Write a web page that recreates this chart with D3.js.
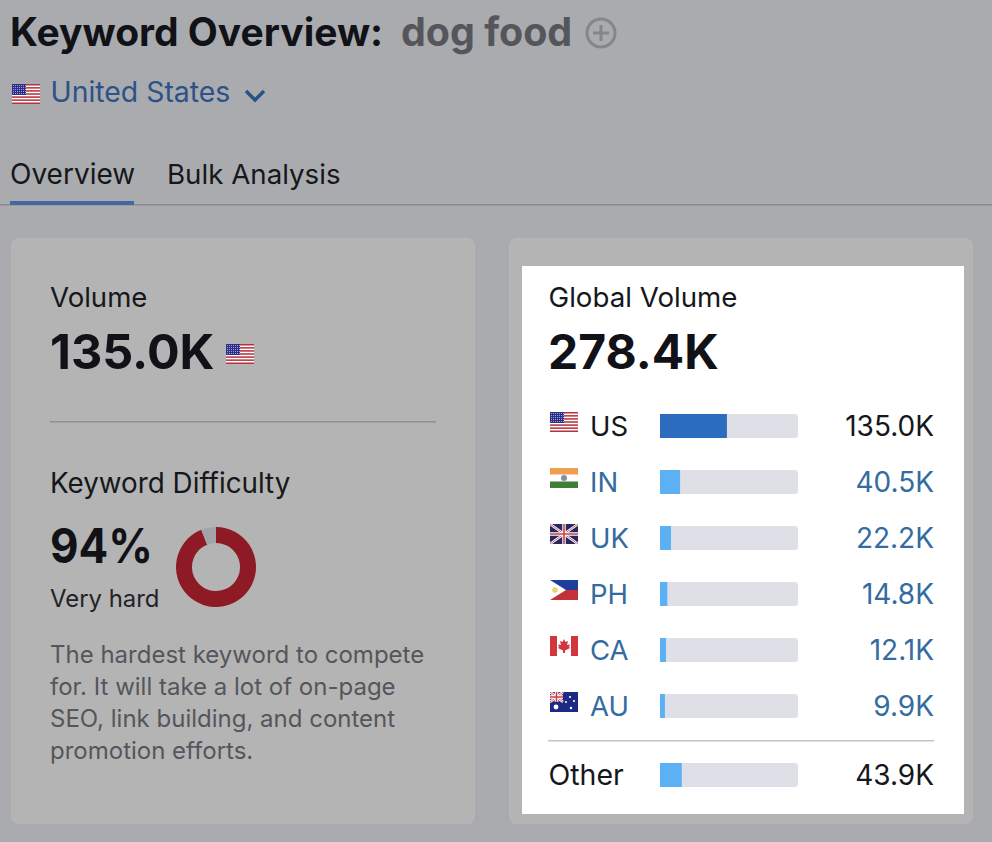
<!DOCTYPE html>
<html>
<head>
<meta charset="utf-8">
<title>Keyword Overview</title>
<script src="https://cdn.jsdelivr.net/npm/d3@7"></script>
<style>
  html, body { margin: 0; padding: 0; background: #aaabae; overflow: hidden; }
  svg { display: block; }
  text { font-family: Inter, "Noto Sans", sans-serif; }
</style>
</head>
<body>
<div id="chart"></div>
<script>
// Chart data
const countries = ['US', 'IN', 'UK', 'PH', 'CA', 'AU'];
const countryVolumes = [135000, 40500, 22200, 14800, 12100, 9900];
const countryLabels = ['135.0K', '40.5K', '22.2K', '14.8K', '12.1K', '9.9K'];
const otherVolume = [43900];
const otherLabel = ['43.9K'];
const globalVolume = 278400;
const difficulty = [94, 6];
const descriptionLines = [
  'The hardest keyword to compete',
  'for. It will take a lot of on-page',
  'SEO, link building, and content',
  'promotion efforts.'
];

const svg = d3.select('#chart').append('svg')
  .attr('width', 992)
  .attr('height', 842);

// helper for plain text
function label(parent, x, y, str, size, weight, fill, anchor) {
  return parent.append('text')
    .attr('x', x).attr('y', y)
    .attr('font-size', size)
    .attr('font-weight', weight)
    .attr('fill', fill)
    .attr('text-anchor', anchor || 'start')
    .text(str);
}

// Background and header
svg.append('rect').attr('width', 992).attr('height', 842).attr('fill', '#aaabae');
label(svg, 10, 46, 'Keyword Overview:', 39, 700, '#111217');
label(svg, 401, 46, 'dog food', 39.4, 700, '#55565b');
svg.append('circle').attr('cx', 601).attr('cy', 33).attr('r', 14)
  .attr('fill', 'none').attr('stroke', '#85868a').attr('stroke-width', 3);
svg.append('path').attr('d', 'M593,33H609M601,25V41')
  .attr('stroke', '#85868a').attr('stroke-width', 3);

label(svg, 50.5, 102, 'United States', 28.4, 400, '#2c5288');
svg.append('path').attr('d', 'M246,91L255,100L264,91')
  .attr('fill', 'none').attr('stroke', '#2c5288').attr('stroke-width', 3.5);

label(svg, 10, 184, 'Overview', 28, 400, '#16171b');
label(svg, 167, 184, 'Bulk Analysis', 27.7, 400, '#16171b');
svg.append('rect').attr('x', 0).attr('y', 204).attr('width', 992).attr('height', 1.5).attr('fill', '#8b8c91');
svg.append('rect').attr('x', 10).attr('y', 201).attr('width', 124).attr('height', 4).attr('fill', '#41689f');

// Cards
[[10, 466], [508, 466]].forEach(function(c) {
  svg.append('rect').attr('x', c[0]).attr('y', 237).attr('width', c[1]).attr('height', 588)
    .attr('rx', 9).attr('fill', '#b4b4b4').attr('stroke', '#a6a7aa');
});
svg.append('rect').attr('x', 522).attr('y', 266).attr('width', 442).attr('height', 548).attr('fill', '#ffffff');

// Left card
label(svg, 50, 307, 'Volume', 27.6, 400, '#16171b');
label(svg, 50, 369, '135.0K', 48.5, 700, '#111217');
svg.append('rect').attr('x', 50).attr('y', 421).attr('width', 386).attr('height', 1.5).attr('fill', '#8f9094');
label(svg, 50, 493, 'Keyword Difficulty', 27.8, 400, '#16171b');
label(svg, 50, 563, '94%', 48, 700, '#111217')
  .attr('textLength', 103).attr('lengthAdjust', 'spacingAndGlyphs');
label(svg, 50, 607, 'Very hard', 23.9, 400, '#222327');

descriptionLines.forEach(function(line, i) {
  label(svg, 50, 663 + i * 32, line, 24, 400, '#55565b');
});

// Difficulty donut
const pie = d3.pie().sort(null)(difficulty);
const arc = d3.arc().innerRadius(24).outerRadius(40);
svg.append('g').attr('transform', 'translate(216,567)')
  .selectAll('path')
  .data(pie)
  .enter().append('path')
  .attr('d', arc)
  .attr('fill', function(d, i) { return i === 0 ? '#8e1a26' : '#a3a4a7'; });

// Flags, drawn inside a 28x20 box
function flagUS(g) {
  g.append('rect').attr('width', 28).attr('height', 20).attr('fill', '#fff');
  d3.range(0, 7).forEach(function(i) {
    g.append('rect').attr('y', i * 20 / 6.5).attr('width', 28).attr('height', 20 / 13).attr('fill', '#b5343f');
  });
  g.append('rect').attr('width', 14).attr('height', 11).attr('fill', '#2c2f86');
  d3.range(1, 14, 2).forEach(function(px) {
    d3.range(1, 11, 2).forEach(function(py) {
      g.append('rect').attr('x', px).attr('y', py).attr('width', 0.9).attr('height', 0.9).attr('fill', '#b9bbe6');
    });
  });
}
function flagIN(g) {
  g.append('rect').attr('width', 28).attr('height', 20).attr('fill', '#fff');
  g.append('rect').attr('width', 28).attr('height', 6.5).attr('fill', '#ee9f52');
  g.append('rect').attr('y', 13.5).attr('width', 28).attr('height', 6.5).attr('fill', '#3f7f35');
  g.append('circle').attr('cx', 14).attr('cy', 10).attr('r', 3).attr('fill', '#7f8fa8');
}
function flagUnionLines(g, w, h) {
  g.append('path').attr('d', 'M0,0L' + w + ',' + h + 'M' + w + ',0L0,' + h)
    .attr('stroke', '#fff').attr('stroke-width', 2.5);
  g.append('path').attr('d', 'M0,0L' + w + ',' + h + 'M' + w + ',0L0,' + h)
    .attr('stroke', '#c8404a').attr('stroke-width', 0.8);
  g.append('path').attr('d', 'M' + w / 2 + ',0V' + h + 'M0,' + h / 2 + 'H' + w)
    .attr('stroke', '#fff').attr('stroke-width', 3.5);
  g.append('path').attr('d', 'M' + w / 2 + ',0V' + h + 'M0,' + h / 2 + 'H' + w)
    .attr('stroke', '#c8404a').attr('stroke-width', 1.6);
}
function flagUK(g) {
  g.append('rect').attr('width', 28).attr('height', 20).attr('fill', '#27285f');
  flagUnionLines(g, 28, 20);
}
function flagPH(g) {
  g.append('rect').attr('width', 28).attr('height', 10).attr('fill', '#1f3d9c');
  g.append('rect').attr('y', 10).attr('width', 28).attr('height', 10).attr('fill', '#c2303a');
  g.append('path').attr('d', 'M0,0L16,10L0,20Z').attr('fill', '#fff');
  g.append('circle').attr('cx', 5).attr('cy', 10).attr('r', 2.8).attr('fill', '#ecd17a');
}
function flagCA(g) {
  g.append('rect').attr('width', 28).attr('height', 20).attr('fill', '#fff');
  g.append('rect').attr('width', 7).attr('height', 20).attr('fill', '#d1363c');
  g.append('rect').attr('x', 21).attr('width', 7).attr('height', 20).attr('fill', '#d1363c');
  g.append('path').attr('d', 'M14,3L15.5,6L18,5L17,9L20,8.5L19,11L20,12L15,14.5V17H13V14.5L8,12L9,11L8,8.5L11,9L10,5L12.5,6Z')
    .attr('fill', '#d1363c');
}
function flagAU(g) {
  g.append('rect').attr('width', 28).attr('height', 20).attr('fill', '#1c2a86');
  const canton = g.append('g');
  canton.append('rect').attr('width', 13).attr('height', 10).attr('fill', '#7b2b4e');
  flagUnionLines(canton, 13, 10);
  [[6, 15, 2.4], [20, 5, 1.1], [24, 9, 1.1], [16, 10, 1], [21, 16, 1.2]].forEach(function(s) {
    g.append('circle').attr('cx', s[0]).attr('cy', s[1]).attr('r', s[2]).attr('fill', '#fff');
  });
}
const flags = { US: flagUS, IN: flagIN, UK: flagUK, PH: flagPH, CA: flagCA, AU: flagAU };

flagUS(svg.append('g').attr('transform', 'translate(12,84)'));
flagUS(svg.append('g').attr('transform', 'translate(226,344)'));

// Right card: global volume
label(svg, 548.5, 307, 'Global Volume', 27.7, 400, '#16171b');
label(svg, 548, 369, '278.4K', 48, 700, '#111217');

const x = d3.scaleLinear().domain([0, globalVolume]).range([660, 798]);
const y = d3.scaleBand().domain(countries).range([398, 734]);
const yOther = d3.scaleBand().domain(['Other']).range([747, 803]);
const barH = 24;

const rows = svg.selectAll('.row')
  .data(countries)
  .enter().append('g')
  .attr('class', 'row');

rows.each(function(c) {
  const g = d3.select(this).append('g')
    .attr('transform', 'translate(550,' + (y(c) + y.bandwidth() / 2 - 14) + ')');
  flags[c](g);
});

rows.append('text')
  .attr('x', 590)
  .attr('y', function(c) { return y(c) + y.bandwidth() / 2 + 10; })
  .attr('font-size', 27.5)
  .attr('fill', function(c, i) { return i === 0 ? '#16171b' : '#346ba0'; })
  .text(function(c) { return c; });

rows.append('rect')
  .attr('x', x(0))
  .attr('y', function(c) { return y(c) + (y.bandwidth() - barH) / 2; })
  .attr('width', x(globalVolume) - x(0))
  .attr('height', barH)
  .attr('rx', 3)
  .attr('fill', '#dfe0e7');

rows.append('rect')
  .attr('x', x(0))
  .attr('y', function(c) { return y(c) + (y.bandwidth() - barH) / 2; })
  .attr('width', function(c, i) { return x(countryVolumes[i]) - x(0); })
  .attr('height', barH)
  .attr('fill', function(c, i) { return i === 0 ? '#2c6cbf' : '#5cb0f4'; });

rows.append('text')
  .attr('x', 934)
  .attr('y', function(c) { return y(c) + y.bandwidth() / 2 + 10; })
  .attr('font-size', 28)
  .attr('text-anchor', 'end')
  .attr('fill', function(c, i) { return i === 0 ? '#16171b' : '#346ba0'; })
  .text(function(c, i) { return countryLabels[i]; });

svg.append('rect').attr('x', 548).attr('y', 740).attr('width', 386).attr('height', 1.5).attr('fill', '#c4c5c8');

const otherMid = yOther('Other') + yOther.bandwidth() / 2;
label(svg, 548.5, otherMid + 10, 'Other', 28.5, 400, '#16171b');
svg.append('rect').attr('x', x(0)).attr('y', otherMid - barH / 2)
  .attr('width', x(globalVolume) - x(0)).attr('height', barH).attr('rx', 3).attr('fill', '#dfe0e7');
svg.append('rect').attr('x', x(0)).attr('y', otherMid - barH / 2)
  .attr('width', x(otherVolume[0]) - x(0)).attr('height', barH).attr('fill', '#5cb0f4');
label(svg, 934, otherMid + 10, otherLabel[0], 28, 400, '#16171b', 'end');
</script>
</body>
</html>
